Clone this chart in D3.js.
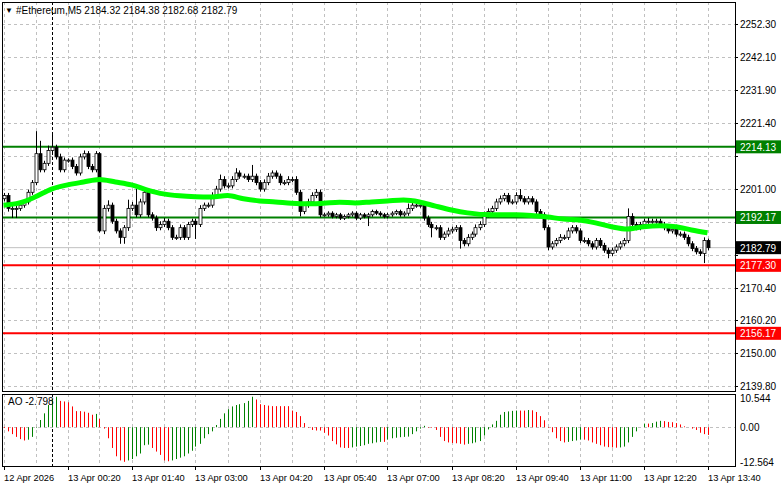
<!DOCTYPE html>
<html>
<head>
<meta charset="utf-8">
<script src="https://cdn.jsdelivr.net/npm/d3@7"></script>
<style>
  body { margin: 0; background: #fff; }
  svg { display: block; font-family: "Liberation Sans", Arial, sans-serif; }
</style>
</head>
<body>
<svg id="chart" width="781" height="489"></svg>
<script>
// M5 closes, one per bar (12 Apr 23:00 .. 13 Apr 13:40)
const closes = [
  2199,2195,2195,2195,2196,2197,2200,2203,2212,2207,
  2209,2213,2214,2211,2207,2210,2210,2208,2206,2211,
  2212,2208,2207,2212,2188,2195,2196,2191,2188,2186,
  2189,2195,2196,2193,2197,2200,2193,2192,2189,2190,
  2191,2189,2186,2186,2189,2186,2190,2191,2190,2195,
  2196,2196,2199,2201,2204,2202,2202,2204,2206,2205,
  2205,2204,2205,2203,2201,2203,2205,2206,2205,2203,
  2203,2204,2204,2200,2194,2196,2197,2199,2200,2193,
  2193,2193.5,2192.5,2193,2192,2192.5,2193,2193.5,2192,2193,
  2192.5,2193,2194,2193.5,2193,2192.5,2193,2193.5,2194,2193,
  2193.5,2195,2196,2196,2196,2192,2190,2189,2189,2186,
  2187,2188,2188.5,2189,2185,2184,2186,2187,2189,2190,
  2193,2194,2195,2197,2198,2199,2197,2197,2199,2198,
  2197,2198,2197,2194,2193,2189,2183,2184,2185,2186,
  2186,2188,2189,2188,2185,2185,2184,2183,2185,2183.5,
  2182,2181,2182,2183,2184,2185,2192.5,2190,2189,2190,
  2191,2191,2191,2191,2190,2189,2188,2188.5,2187,2187,
  2186,2184,2182.5,2181.5,2181,2185,2182.79
];
const firstOpen = 2198;
// wick length above / below the body, in price units
const wickUp = [
  0.8,0.8,0.8,0.8,0.8,0.8,0.8,0.8,7,4,
  0.8,1.5,3.8,0.8,1,0.8,0.5,0.8,0.8,1,
  1,0.8,0.8,0.8,0.5,1,1.5,0.8,0.8,0.8,
  0.8,2.7,1,5,1,1,0.8,0.8,0.8,1,
  1,0.8,0.8,0.8,1,0.8,0.8,0.8,0.8,1,
  0.8,0.8,1,1,1.5,1,0.8,1,1.5,0.8,
  0.8,0.8,3.5,0.8,0.8,1,1,0.8,0.8,0.8,
  0.8,1,0.8,1,0.8,0.8,1,1,1,0.8,
  0.6,0.6,0.6,0.6,0.6,0.6,0.6,0.6,0.6,0.6,
  0.6,0.6,0.6,0.6,0.6,0.6,0.6,0.6,0.6,0.6,
  0.6,1.5,1,1,0.8,0.8,0.8,0.8,0.8,0.8,
  0.8,1,0.8,0.8,0.8,0.8,1,0.8,1,1,
  1,1,0.8,1,1,0.8,0.8,0.8,1,2,
  0.8,0.8,0.8,0.8,0.8,0.8,0.8,0.8,0.8,1,
  0.8,1,0.8,0.8,0.8,1,0.8,0.8,0.8,0.8,
  0.8,0.8,0.8,0.8,0.8,0.8,2.5,1,0.8,0.8,
  0.8,1,0.8,0.8,0.8,0.8,0.8,0.8,0.8,0.8,
  0.8,0.8,0.8,0.8,0.8,1,0.6
];
const wickDn = [
  0.8,1,3,3,0.8,0.8,0.8,0.8,0.8,0.8,
  0.8,0.8,0.8,0.8,0.8,0.8,0.8,0.8,0.8,0.8,
  0.8,0.8,0.8,0.8,0.5,1,1,0.8,0.8,2,
  2,1,0.8,0.8,0.8,0.8,0.8,0.8,1,0.8,
  0.8,0.8,0.8,0.8,0.8,0.8,0.8,0.8,4.5,0.8,
  0.8,0.8,0.8,0.8,0.8,0.8,0.8,0.8,0.8,0.8,
  0.8,0.8,0.8,0.8,0.8,0.8,0.8,0.8,0.8,0.8,
  0.8,0.8,0.8,0.8,1.5,0.8,0.8,0.8,0.8,0.8,
  0.6,0.6,0.6,0.6,0.6,0.6,0.6,0.6,0.6,0.6,
  0.6,3,0.6,0.6,0.6,0.6,0.6,0.6,0.6,0.6,
  0.6,0.8,0.8,0.8,0.8,0.8,0.8,3,0.8,0.8,
  0.8,0.8,0.8,0.8,2.5,0.8,0.8,0.8,0.8,0.8,
  0.8,0.8,0.8,0.8,0.8,0.8,0.8,0.8,0.8,0.8,
  0.8,0.8,0.8,0.8,0.8,0.8,1,0.8,0.8,0.8,
  0.8,0.8,0.8,0.8,0.8,0.8,0.8,0.8,0.8,0.8,
  0.8,1.5,0.8,0.8,0.8,0.8,0.8,0.8,0.8,0.8,
  0.8,0.8,0.8,0.8,0.8,0.8,0.8,0.8,0.8,0.8,
  0.8,0.8,0.8,0.8,0.8,3,0.8
];
// moving average, read every 4th bar
const maBars = d3.range(0, 177, 4);
const maValues = [
  2196,2196.7,2198.6,2201,2202.3,2203.2,2204,2203.2,2202.3,2200.7,
  2199.5,2198.9,2198.6,2198.5,2199,2198,2197.3,2197,2196.6,2196.4,
  2196.6,2196.9,2196.7,2197,2197.3,2197.6,2197,2195.7,2194.5,2193.6,
  2193.1,2193,2193,2192.8,2192.3,2191.7,2191.4,2190.5,2189.3,2188.6,
  2189.3,2189.6,2189.3,2188.3,2187.4
];
// Awesome Oscillator, one per bar
const aoValues = [
  -0.3,-1.5,-2.5,-3.5,-4.3,-4.8,-4.5,-3.5,-0.2,2.6,
  5,8,10,11,9.5,9.3,9,7.5,5.8,5.8,
  5.6,5.2,4.5,4.8,3,-0.5,-4,-7.5,-10.5,-12,
  -12.5,-12,-11.5,-10.5,-9.5,-6.5,-6.3,-7.5,-8.8,-10,
  -12,-12.3,-12,-11.5,-11,-10.5,-9.5,-8.5,-7,-6,
  -4,-2.5,-1.5,0.8,3,5,6.5,7.5,8,8.3,
  8.7,9.5,11,10,8.3,8,7.8,7.6,7.6,7.6,
  7.6,7.6,6,5.5,4,1.5,-0.2,-1,-1.2,-1.2,
  -2,-3,-5,-6.2,-7.3,-7.5,-7.5,-7.3,-7,-6.8,
  -6.5,-6,-5.8,-5.5,-5.3,-5.3,-4.5,-4,-3.8,
  -3.6,-3.5,-3.4,-2.5,-1.5,-0.5,0.5,-0.2,-0.2,-1,
  -3.5,-5,-5.5,-5.7,-5.8,-6,-6.3,-6,-5.8,-5.5,
  -5,-3,-0.8,1,2.3,4.5,5.5,5.7,5.9,6,
  6,6,6.2,6.1,5.5,4,2.5,-0.2,-1.8,-4,
  -5,-5.5,-5.3,-5,-4.8,-4.5,-4.5,-4.8,-5.5,-6,
  -6.5,-7,-7.2,-7.3,-7.4,-7.3,-7,-5.5,-3.5,-1.5,
  0,1.3,1.3,1.5,2,2.3,2.2,1.9,1.8,1.5,
  1,0.3,0,-0.5,-1,-2,-2.5,-2.798
];
const priceTicks = [2252.30,2242.10,2231.90,2221.40,2211.20,2201.00,2190.80,2180.60,2170.40,2160.20,2150.00,2139.80];
const aoTicks = [10.544, 0, -12.564];
const timeLabels = ["12 Apr 2026","13 Apr 00:20","13 Apr 01:40","13 Apr 03:00","13 Apr 04:20","13 Apr 05:40",
  "13 Apr 07:00","13 Apr 08:20","13 Apr 09:40","13 Apr 11:00","13 Apr 12:20","13 Apr 13:40"];
const levels = [
  { price: 2214.13, color: "#008000" },
  { price: 2192.17, color: "#008000" },
  { price: 2177.30, color: "#ff0000" },
  { price: 2156.17, color: "#ff0000" }
];
const lastPrice = 2182.79;
const dayBreakBar = 12;

const svg = d3.select("#chart");
const left = 2, right = 735, mainTop = 2, mainBottom = 391, aoTop = 394, aoBottom = 466;

const x = d3.scaleLinear().domain([0, 176]).range([3.5, 707.5]);
const y = d3.scaleLinear().domain([2139.8, 2252.3]).range([386, 24]);
const yAo = d3.scaleLinear().domain([-12.564, 10.544]).range([462, 398]);

const bars = closes.map((c, i) => {
  const o = i === 0 ? firstOpen : closes[i - 1];
  return { i, o, c, h: Math.max(o, c) + wickUp[i], l: Math.min(o, c) - wickDn[i] };
});

// grid
const grid = svg.append("g").attr("stroke", "#c0c0c0").attr("stroke-dasharray", "3,3").attr("stroke-width", 1);
grid.selectAll(".hg").data(priceTicks).enter().append("line")
  .attr("x1", left).attr("x2", right)
  .attr("y1", d => Math.round(y(d)) + 0.5).attr("y2", d => Math.round(y(d)) + 0.5);
grid.selectAll(".vg").data(d3.range(0, 177, 8)).enter().append("line")
  .attr("x1", d => Math.round(x(d)) + 0.5).attr("x2", d => Math.round(x(d)) + 0.5)
  .attr("y1", mainTop).attr("y2", mainBottom);
grid.selectAll(".vga").data(d3.range(0, 177, 8)).enter().append("line")
  .attr("x1", d => Math.round(x(d)) + 0.5).attr("x2", d => Math.round(x(d)) + 0.5)
  .attr("y1", aoTop).attr("y2", aoBottom);
grid.append("line").attr("x1", left).attr("x2", right)
  .attr("y1", Math.round(yAo(0)) + 0.5).attr("y2", Math.round(yAo(0)) + 0.5);

// day separator
[[mainTop, mainBottom], [aoTop, aoBottom]].forEach(([a, b]) => {
  svg.append("line").attr("x1", Math.round(x(dayBreakBar)) + 0.5).attr("x2", Math.round(x(dayBreakBar)) + 0.5)
    .attr("y1", a).attr("y2", b).attr("stroke", "#000").attr("stroke-dasharray", "3,2");
});

// last price line
svg.append("line").attr("x1", left).attr("x2", right)
  .attr("y1", y(lastPrice)).attr("y2", y(lastPrice)).attr("stroke", "#c0c0c0");

// level lines
svg.selectAll(".lvl").data(levels).enter().append("line")
  .attr("x1", left).attr("x2", right)
  .attr("y1", d => y(d.price)).attr("y2", d => y(d.price))
  .attr("stroke", d => d.color).attr("stroke-width", 2);

// candles
const cg = svg.append("g");
cg.selectAll(".wick").data(bars).enter().append("line")
  .attr("x1", d => Math.round(x(d.i)) + 0.5).attr("x2", d => Math.round(x(d.i)) + 0.5)
  .attr("y1", d => y(d.h)).attr("y2", d => y(d.l)).attr("stroke", "#000");
cg.selectAll(".body").data(bars).enter().append("rect")
  .attr("x", d => Math.round(x(d.i)) - 1)
  .attr("width", 3)
  .attr("y", d => y(Math.max(d.o, d.c)))
  .attr("height", d => Math.max(1, Math.abs(y(d.o) - y(d.c))))
  .attr("fill", d => d.c >= d.o ? "#fff" : "#000")
  .attr("stroke", "#000").attr("stroke-width", 0.8);

// moving average
svg.append("path")
  .datum(maBars.map((b, k) => [b, maValues[k]]))
  .attr("fill", "none").attr("stroke", "#00ff00").attr("stroke-width", 5)
  .attr("d", d3.line().x(d => x(d[0])).y(d => y(d[1])).curve(d3.curveMonotoneX));

// AO histogram
svg.append("g").selectAll("line").data(aoValues).enter().append("line")
  .attr("x1", (d, i) => Math.round(x(i)) + 0.5).attr("x2", (d, i) => Math.round(x(i)) + 0.5)
  .attr("y1", yAo(0)).attr("y2", d => yAo(d))
  .attr("stroke", (d, i) => i > 0 && d > aoValues[i - 1] ? "#008000" : "#ff0000")
  .attr("stroke-width", 1);

// frames
svg.append("rect").attr("x", left + 0.5).attr("y", mainTop + 0.5)
  .attr("width", right - left).attr("height", mainBottom - mainTop).attr("fill", "none").attr("stroke", "#000");
svg.append("rect").attr("x", left + 0.5).attr("y", aoTop + 0.5)
  .attr("width", right - left).attr("height", aoBottom - aoTop).attr("fill", "none").attr("stroke", "#000");

// price axis (ticks hidden behind a coloured price box are skipped)
const boxes = levels.map(l => ({ price: l.price, color: l.color }))
  .concat([{ price: lastPrice, color: "#000" }]);
const freeTicks = priceTicks.filter(t => boxes.every(b => Math.abs(y(b.price) - y(t)) > 10));
const axisText = svg.append("g").attr("font-size", 10).attr("fill", "#000");
axisText.selectAll(".pt").data(freeTicks).enter().append("text")
  .attr("x", 740).attr("y", d => y(d) + 4).text(d => d.toFixed(2));
svg.selectAll(".ptk").data(priceTicks).enter().append("line")
  .attr("x1", right).attr("x2", right + 3).attr("y1", d => Math.round(y(d)) + 0.5).attr("y2", d => Math.round(y(d)) + 0.5)
  .attr("stroke", "#000");
axisText.selectAll(".at").data(aoTicks).enter().append("text")
  .attr("x", 740).attr("y", d => yAo(d) + 4).text(d => d === 0 ? "0.00" : d.toFixed(3));

// price boxes
const bg = svg.selectAll(".box").data(boxes).enter().append("g");
bg.append("rect").attr("x", right + 1).attr("y", d => y(d.price) - 6.5)
  .attr("width", 45).attr("height", 13).attr("fill", d => d.color);
bg.append("text").attr("x", 740).attr("y", d => y(d.price) + 4)
  .attr("font-size", 10).attr("fill", "#fff").text(d => d.price.toFixed(2));

// time axis
const tIdx = d3.range(0, 177, 16);
svg.selectAll(".tt").data(timeLabels).enter().append("text")
  .attr("x", (d, k) => Math.round(x(tIdx[k]))).attr("y", 481)
  .attr("font-size", 9.3).text(d => d);
svg.selectAll(".ttk").data(tIdx).enter().append("line")
  .attr("x1", d => Math.round(x(d)) + 0.5).attr("x2", d => Math.round(x(d)) + 0.5)
  .attr("y1", aoBottom).attr("y2", aoBottom + 4).attr("stroke", "#000");

// headers
svg.append("text").attr("x", 5).attr("y", 13).attr("font-size", 8).text("▼");
svg.append("text").attr("x", 16).attr("y", 14).attr("font-size", 10)
  .text("#Ethereum,M5  2184.32 2184.38 2182.68 2182.79");
svg.append("text").attr("x", 8).attr("y", 405).attr("font-size", 10).text("AO -2.798");
</script>
</body>
</html>
